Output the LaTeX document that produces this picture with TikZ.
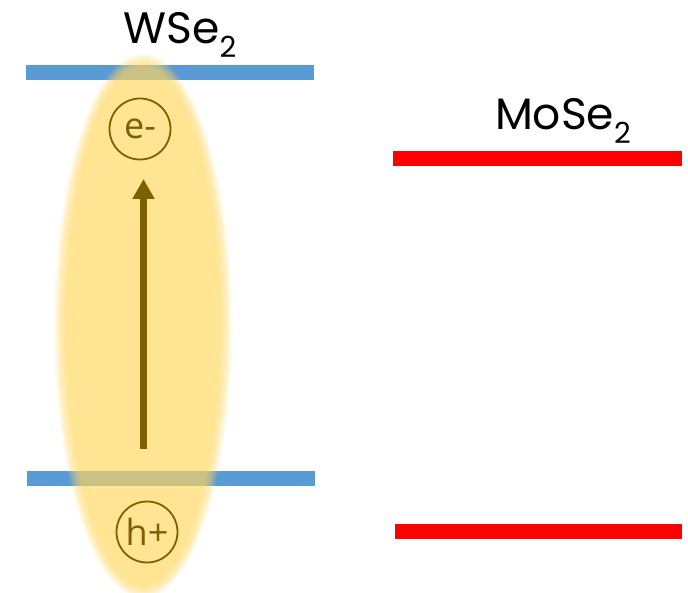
\documentclass[tikz,border=0pt]{standalone}
\usepackage{fontspec}
\setmainfont{Poppins}
\newfontfamily\carrierfont{Open Sans}
\usetikzlibrary{arrows.meta}

\definecolor{bandblue}{HTML}{5B9BD5}
\definecolor{bandred}{HTML}{FF0000}
\definecolor{excitongold}{HTML}{FFD966}
\definecolor{carrierbrown}{HTML}{7F6000}

\tikzset{
  bandwsetwo/.style={draw=bandblue, line width=15pt},
  bandmosetwo/.style={draw=bandred, line width=15.5pt},
  carrier/.style={circle, draw=carrierbrown, line width=1.8pt, minimum size=61pt,
    inner sep=0pt, text=carrierbrown, font=\carrierfont\fontsize{36}{36}\selectfont},
  material/.style={inner sep=0pt, anchor=base, font=\fontsize{44}{44}\selectfont},
  transfer/.style={draw=carrierbrown, line width=6.5pt,
    -{Triangle[length=20pt, width=21pt]}},
}
\newcommand{\subtwo}{\raisebox{-0.3em}{\fontsize{29}{29}\selectfont 2}}

\begin{document}
\begin{tikzpicture}[x=1pt, y=-1pt]
  \useasboundingbox (0,0) rectangle (688,593);

  % band edges
  \coordinate (wcbL) at (26,72.5);   \coordinate (wcbR) at (314,72.5);
  \coordinate (wvbL) at (27,478);    \coordinate (wvbR) at (315,478);
  \coordinate (mcbL) at (393,158.5); \coordinate (mcbR) at (682,158.5);
  \coordinate (mvbL) at (395,531.5); \coordinate (mvbR) at (682,531.5);
  \draw[bandwsetwo] (wcbL) -- (wcbR);
  \draw[bandwsetwo] (wvbL) -- (wvbR);
  \draw[bandmosetwo] (mcbL) -- (mcbR);
  \draw[bandmosetwo] (mvbL) -- (mvbR);

  % soft-edged exciton cloud
  \foreach \i in {0,...,11}{
    \fill[excitongold, opacity=0.095]
      (143,326) ellipse ({89-1.1*\i} and {272-1.1*\i});
  }

  % carriers and transition
  \node[carrier] (elec) at (140,129) {e-};
  \node[carrier] (hole) at (147,532) {h+};
  \coordinate (tail) at (143.5,449);
  \coordinate (tip) at (143.5,179);
  \draw[transfer] (tail) -- (tip);

  % material labels
  \node[material] (wse) at (180,44) {WSe\subtwo};
  \node[material] (mose) at (563,130) {MoSe\subtwo};
\end{tikzpicture}
\end{document}
